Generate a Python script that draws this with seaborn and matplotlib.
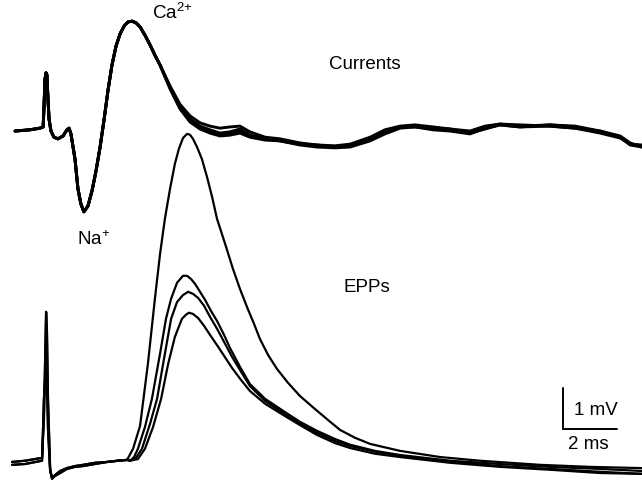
import numpy as np
import pandas as pd
import matplotlib
matplotlib.use("Agg")
import matplotlib.pyplot as plt
import seaborn as sns

sns.set_theme(style="white")
plt.rcParams['font.family'] = ['Liberation Sans', 'DejaVu Sans']
plt.rcParams['mathtext.default'] = 'regular'

# ---------------- data (time in ms, stimulus at t = 0) ----------------
# Nerve-terminal currents (arbitrary units, baseline 0)
cur_t_early = [-1.11, -0.56, -0.19, -0.07, -0.04, 0.0, 0.04, 0.07, 0.11, 0.15, 0.22, 0.33,
               0.48, 0.67, 0.81, 0.89, 0.96, 1.11, 1.22, 1.33, 1.44, 1.59, 1.74, 1.89,
               2.04, 2.19, 2.33, 2.48, 2.63, 2.78, 2.93, 3.07, 3.22, 3.37, 3.52, 3.70,
               3.89, 4.07, 4.26]
cur_v_early = [-0.05, -0.02, 0.02, 0.05, 0.49, 1.22, 1.37, 1.32, 0.73, 0.24, -0.05, -0.20,
               -0.24, -0.17, -0.02, 0.02, -0.12, -0.73, -1.46, -1.83, -2.02, -1.88, -1.51, -1.02,
               -0.44, 0.24, 0.93, 1.56, 2.02, 2.32, 2.51, 2.61, 2.63, 2.59, 2.49, 2.29,
               2.05, 1.80, 1.56]
cur_t_tail = [4.63, 5.0, 5.37, 5.74, 6.11, 6.48, 6.85, 7.22, 7.59, 8.15, 8.70, 9.44, 10.07,
              10.74, 11.30, 12.04, 12.59, 13.15, 13.70, 14.37, 15.0, 15.74, 16.30, 16.85,
              17.59, 18.70, 19.63, 20.56, 21.30, 21.67, 22.11]
cur_tail_1 = [1.02, 0.54, 0.24, 0.07, -0.02, -0.10, -0.07, 0.0, -0.15, -0.24, -0.27, -0.37, -0.39,
              -0.44, -0.41, -0.24, -0.07, 0.05, 0.07, 0.0, -0.02, -0.07, 0.05, 0.12,
              0.07, 0.10, 0.05, -0.07, -0.20, -0.37, -0.41]
cur_tail_2 = [1.05, 0.60, 0.32, 0.15, 0.07, 0.02, 0.05, 0.07, -0.07, -0.20, -0.24, -0.34, -0.39,
              -0.41, -0.37, -0.20, -0.02, 0.07, 0.10, 0.05, 0.0, -0.05, 0.07, 0.12,
              0.10, 0.07, 0.02, -0.10, -0.22, -0.37, -0.39]
cur_tail_3 = [0.98, 0.49, 0.17, 0.0, -0.10, -0.17, -0.15, -0.10, -0.20, -0.27, -0.29, -0.39, -0.44,
              -0.46, -0.44, -0.29, -0.12, 0.02, 0.05, 0.02, 0.0, -0.10, 0.0, 0.10,
              0.05, 0.07, 0.02, -0.05, -0.17, -0.34, -0.44]
cur_tail_4 = [1.0, 0.51, 0.20, 0.02, -0.07, -0.12, -0.10, -0.05, -0.17, -0.24, -0.29, -0.37, -0.41,
              -0.44, -0.39, -0.22, -0.05, 0.05, 0.05, -0.02, -0.05, -0.12, 0.02, 0.10,
              0.05, 0.10, 0.07, -0.05, -0.20, -0.39, -0.44]

# End-plate potentials (mV, baseline 0)
epp_t_early = [-1.22, -0.74, -0.11, -0.04, 0.04, 0.07, 0.11, 0.19, 0.26, 0.37, 0.56, 0.81,
               1.11, 1.41, 1.85, 2.30, 2.70, 3.04]
epp_v_early_hi = [-0.05, -0.02, 0.05, 1.0, 3.61, 3.20, 1.49, -0.22, -0.46, -0.39, -0.32, -0.22,
                  -0.17, -0.15, -0.10, -0.05, -0.02, 0.0]
epp_v_early_lo = [-0.12, -0.10, -0.02, 1.49, 2.29, 1.98, 0.76, -0.27, -0.44, -0.37, -0.27, -0.20,
                  -0.15, -0.12, -0.07, -0.05, -0.02, 0.0]

epp_big_t = [3.26, 3.52, 3.81, 4.07, 4.26, 4.44, 4.63, 4.81, 4.96, 5.11, 5.26, 5.37, 5.48,
             5.63, 5.81, 6.0, 6.19, 6.37, 6.67, 6.96, 7.22, 7.48, 7.74, 7.96, 8.26, 8.59,
             9.0, 9.44, 10.0, 10.56, 10.93, 11.48, 12.04, 13.15, 14.63, 16.11, 18.33, 20.19, 22.11]
epp_big_v = [0.27, 0.83, 2.34, 3.93, 5.02, 5.88, 6.61, 7.22, 7.59, 7.85, 7.95, 7.93, 7.83,
             7.63, 7.34, 6.90, 6.41, 5.88, 5.27, 4.66, 4.17, 3.73, 3.32, 2.95, 2.56, 2.22,
             1.88, 1.56, 1.24, 0.93, 0.73, 0.54, 0.39, 0.22, 0.07, -0.02, -0.12, -0.17, -0.20]
epp_a_t = [3.15, 3.30, 3.44, 3.70, 3.96, 4.26, 4.48, 4.67, 4.89, 5.11, 5.26, 5.41, 5.56, 5.74,
           5.93, 6.15, 6.37, 6.63, 6.85, 7.22, 7.59, 8.15, 8.81, 9.44, 10.07, 10.74, 11.30,
           12.22, 13.15, 15.0, 16.85, 18.70, 20.56, 22.11]
epp_a_v = [-0.02, 0.07, 0.27, 0.80, 1.49, 2.59, 3.44, 3.93, 4.32, 4.49, 4.49, 4.41, 4.29, 4.10,
           3.90, 3.63, 3.39, 3.05, 2.73, 2.27, 1.85, 1.49, 1.20, 0.93, 0.71, 0.51, 0.37,
           0.22, 0.12, -0.02, -0.10, -0.17, -0.22, -0.27]
epp_b_t = [3.15, 3.37, 3.59, 3.89, 4.15, 4.44, 4.67, 4.89, 5.11, 5.30, 5.48, 5.67, 5.89, 6.11,
           6.37, 6.63, 6.93, 7.26, 7.59, 8.15, 8.81, 9.44, 10.07, 10.74, 11.30, 12.22, 13.15,
           15.0, 16.85, 18.70, 20.56, 22.11]
epp_b_v = [-0.02, 0.05, 0.27, 0.88, 1.49, 2.59, 3.44, 3.85, 4.02, 4.10, 4.05, 3.95, 3.76, 3.49,
           3.20, 2.88, 2.51, 2.15, 1.80, 1.44, 1.15, 0.88, 0.66, 0.46, 0.34, 0.20, 0.10,
           -0.05, -0.15, -0.22, -0.29, -0.34]
epp_c_t = [3.15, 3.44, 3.70, 4.0, 4.30, 4.56, 4.81, 5.07, 5.22, 5.33, 5.48, 5.67, 5.89, 6.11,
           6.37, 6.63, 6.93, 7.26, 7.59, 8.15, 8.81, 9.44, 10.07, 10.74, 11.30, 12.22, 13.15,
           15.0, 16.85, 18.70, 20.56, 22.11]
epp_c_v = [-0.02, 0.02, 0.27, 0.80, 1.49, 2.34, 3.0, 3.44, 3.54, 3.59, 3.56, 3.46, 3.27, 3.05,
           2.80, 2.54, 2.24, 1.95, 1.68, 1.37, 1.10, 0.85, 0.61, 0.41, 0.29, 0.15, 0.07,
           -0.07, -0.17, -0.24, -0.32, -0.34]

scale_ms = 2
scale_mv = 1

# ---------------- layout / style ----------------
CUR_OFFSET = 8.07
LW = 1.6

rows = []
for k, tail in enumerate([cur_tail_1, cur_tail_2, cur_tail_3, cur_tail_4]):
    for t, v in zip(cur_t_early + cur_t_tail, cur_v_early + tail):
        rows.append(("cur%d" % k, t, v + CUR_OFFSET))
epps = [(epp_v_early_hi, epp_big_t, epp_big_v),
        (epp_v_early_hi, epp_a_t, epp_a_v),
        (epp_v_early_lo, epp_b_t, epp_b_v),
        (epp_v_early_lo, epp_c_t, epp_c_v)]
for k, (ev, tt, vv) in enumerate(epps):
    for t, v in zip(epp_t_early + tt, ev + vv):
        rows.append(("epp%d" % k, t, v))
df = pd.DataFrame(rows, columns=["trace", "t", "y"])

fig = plt.figure(figsize=(6.42, 4.81), dpi=100)
ax = fig.add_axes([0, 0, 1, 1])
sns.lineplot(data=df[df.trace.str.startswith("cur")], x="t", y="y", units="trace",
             estimator=None, sort=False, color="black", lw=2.1, ax=ax, legend=False)
sns.lineplot(data=df[df.trace.str.startswith("epp")], x="t", y="y", units="trace",
             estimator=None, sort=False, color="black", lw=LW, ax=ax, legend=False)
for ln in ax.get_lines():
    ln.set_solid_joinstyle("round")
ax.set_xlim(-1.667, 22.11)
ax.set_ylim(-0.49, 11.24)
ax.axis("off")

# scale bar
sx, sy = 19.19, 0.76
ax.plot([sx, sx, sx + scale_ms], [sy + scale_mv, sy, sy], color="black", lw=1.4,
        solid_joinstyle="miter")
fs = 13.5
tc = "black"
ax.text(sx + 0.42, sy + 0.48 * scale_mv, "%d mV" % scale_mv, fontsize=fs, va="center",
        ha="left", color=tc)
ax.text(sx + 0.95, sy - 0.36, "%d ms" % scale_ms, fontsize=fs, va="center", ha="center",
        color=tc)

ax.text(3.96, 10.93, "Ca$^{2{+}}$", fontsize=fs, va="center", ha="left", color=tc)
ax.text(10.52, 9.66, "Currents", fontsize=fs, va="center", ha="left", color=tc)
ax.text(1.19, 5.39, "Na$^{{+}}$", fontsize=fs, va="center", ha="left", color=tc)
ax.text(11.04, 4.22, "EPPs", fontsize=fs, va="center", ha="left", color=tc)

fig.savefig("out.png", dpi=100, facecolor="white")
